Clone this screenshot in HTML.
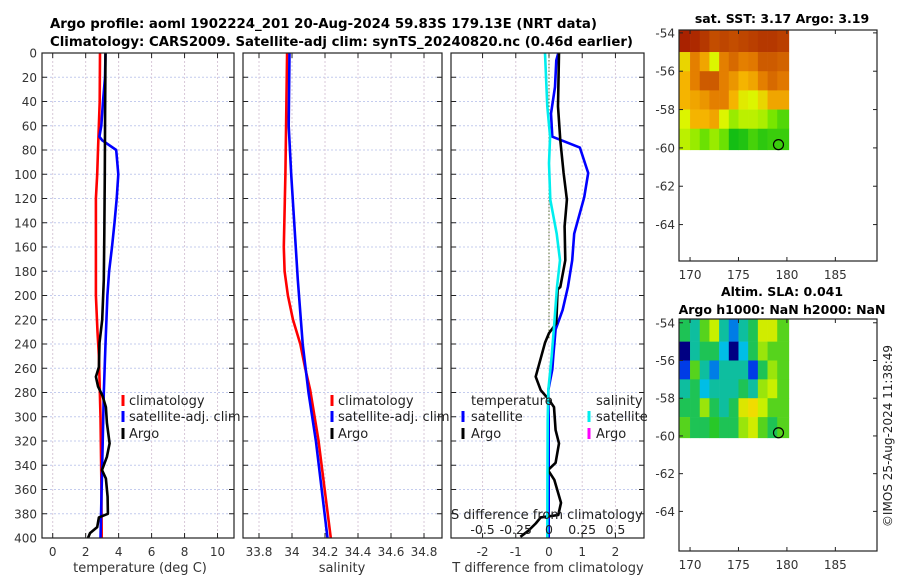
<!DOCTYPE html>
<html><head><meta charset="utf-8"><style>
body{margin:0;background:#fff}
svg{display:block;font-family:"DejaVu Sans","Liberation Sans",sans-serif}
</style></head><body>
<svg id="c" width="900" height="580" viewBox="0 0 900 580" xmlns="http://www.w3.org/2000/svg">
<text x="50" y="28" font-size="13" font-weight="bold" textLength="547" lengthAdjust="spacingAndGlyphs">Argo profile: aoml 1902224_201 20-Aug-2024 59.83S 179.13E (NRT data)</text>
<text x="50" y="46" font-size="13" font-weight="bold" textLength="583" lengthAdjust="spacingAndGlyphs">Climatology: CARS2009. Satellite-adj clim: synTS_20240820.nc (0.46d earlier)</text>
<text x="782" y="23" font-size="12.5" font-weight="bold" text-anchor="middle">sat. SST: 3.17 Argo: 3.19</text>
<text x="782" y="296" font-size="12.5" font-weight="bold" text-anchor="middle">Altim. SLA: 0.041</text>
<text x="782" y="314" font-size="12.5" font-weight="bold" text-anchor="middle">Argo h1000: NaN h2000: NaN</text>
<text transform="translate(892,436) rotate(-90)" font-size="12" fill="#222" text-anchor="middle">©IMOS 25-Aug-2024 11:38:49</text>
</svg>
<script>
// ---- data ----
const depthTicks=[0,20,40,60,80,100,120,140,160,180,200,220,240,260,280,300,320,340,360,380,400];
const tempTicks=[0,2,4,6,8,10];
const salTicks=[33.8,34,34.2,34.4,34.6,34.8];
const salTickLabels=["33.8","34","34.2","34.4","34.6","34.8"];
const tdTicks=[-2,-1,0,1,2];
const sdTicks=[-0.5,-0.25,0,0.25,0.5];
const sdTickLabels=["-0.5","-0.25","0","0.25","0.5"];

const climTDepth=[0,40,80,100,120,160,200,230,250,300,350,400];
const climT=[2.87,2.85,2.75,2.7,2.62,2.62,2.62,2.72,2.8,2.9,2.95,2.97];
const satTDepth=[0,20,40,60,69,72,80,100,120,140,160,180,200,240,280,340,400];
const satT=[3.2,3.17,3.05,2.95,2.83,3.0,3.85,3.98,3.88,3.75,3.6,3.42,3.32,3.2,3.1,3.0,2.9];
const argoTDepth=[0,50,100,150,187,220,239,259,267,275,283,292,305,322,333,344,351,366,380,383,391,396,400];
const argoT=[3.2,3.18,3.16,3.13,3.1,3.0,2.84,2.8,2.62,2.75,3.03,3.23,3.29,3.45,3.29,2.99,3.23,3.33,3.35,2.8,2.7,2.26,2.14];

const climSDepth=[0,100,160,180,200,220,240,260,278,319,400];
const climS=[33.97,33.96,33.95,33.955,33.975,34.006,34.05,34.08,34.11,34.16,34.235];
const satSDepth=[0,60,100,187,240,280,320,400];
const satS=[33.985,33.98,33.995,34.035,34.065,34.10,34.145,34.215];

const satTdDepth=[0,6,28,50,69,78,99,119,149,171,193,212,228,250,261,278,300,400];
const satTd=[0.28,0.22,0.18,0.06,0.1,0.93,1.18,1.06,0.76,0.7,0.57,0.41,0.2,0.13,0.1,-0.02,-0.01,-0.01];
const argoTdDepth=[0,44,72,99,121,143,171,193,195,223,231,239,267,278,286,292,311,322,338,344,352,371,381,383,388,394,399];
const argoTd=[0.3,0.27,0.34,0.44,0.54,0.47,0.49,0.34,0.26,0.22,0.0,-0.12,-0.4,-0.25,0.0,0.15,0.2,0.3,0.2,-0.03,0.16,0.36,0.28,-0.25,-0.4,-0.62,-0.86];
const satSdDepth=[0,44,69,91,121,149,171,193,223,250,278,303,360,400];
const satSd=[-0.03,-0.013,0.008,0.0,0.01,0.058,0.083,0.06,0.04,0.02,-0.005,-0.01,-0.012,-0.013];

const mapLons=[169,170,171,172,173,174,175,176,177,178,179];
const mapLats=[-54,-55,-56,-57,-58,-59];
const sstGrid=[
[6.8,6.7,6.5,6.2,6.3,6.2,6.3,6.4,6.5,6.5,6.4],
[4.5,5.5,5.0,4.2,5.5,5.8,5.5,5.6,6.0,6.0,5.9],
[4.8,5.5,6.0,6.0,5.5,5.2,4.8,5.0,5.5,5.8,5.6],
[4.8,5.0,5.2,5.5,5.5,4.8,4.3,4.2,4.5,5.0,5.0],
[4.2,4.8,4.8,5.0,4.2,3.8,4.0,4.0,3.9,3.6,3.3],
[4.0,3.8,3.5,3.8,3.5,2.8,2.9,3.2,3.0,3.1,3.1]];
const slaGrid=[
[0.0,-0.05,0.05,0.1,-0.05,-0.15,-0.05,0.0,0.12,0.12,0.05],
[-0.3,-0.05,0.0,0.0,-0.1,-0.3,-0.1,0.0,0.08,0.05,0.05],
[-0.2,0.05,-0.05,-0.15,-0.05,-0.05,-0.05,-0.2,0.0,0.08,0.05],
[-0.05,0.0,-0.1,-0.05,-0.05,-0.05,0.0,-0.05,0.08,0.1,0.05],
[0.0,0.0,0.08,0.0,-0.05,0.0,0.15,0.2,0.1,0.05,0.05],
[0.05,0.0,0.0,0.03,0.0,0.0,0.08,0.12,0.05,0.0,0.05]];
const mapLatTicks=[-54,-56,-58,-60,-62,-64];
const mapLonTicks=[170,175,180,185];
const argoLon=179.13, argoLat=-59.83;

// ---- helpers ----
const svg=document.getElementById('c');
const NS='http://www.w3.org/2000/svg';
function mk(tag,attrs,parent){const e=document.createElementNS(NS,tag);for(const k in attrs)e.setAttribute(k,attrs[k]);(parent||svg).appendChild(e);return e;}
const Y0=53,Y1=538;
const yD=d=>Y0+(d/400)*(Y1-Y0);

function panel(name,x0,x1,xmin,xmax){
  const g=mk('g',{});
  
  
  const sx=v=>x0+(v-xmin)/(xmax-xmin)*(x1-x0);
  return {g,sx,x0,x1};
}
function grid(p,xt){
  depthTicks.forEach(d=>{
    const l=mk('line',{x1:p.x0,x2:p.x1,y1:yD(d),y2:yD(d),stroke:'#c4ccee','stroke-width':1,'stroke-dasharray':'2,2'},p.g);
    
    
    mk('line',{x1:p.x0,x2:p.x0+5,y1:yD(d),y2:yD(d),stroke:'#222'},p.g);
    mk('line',{x1:p.x1-5,x2:p.x1,y1:yD(d),y2:yD(d),stroke:'#222'},p.g);
  });
  xt.forEach(v=>{
    const x=p.sx(v);
    const l=mk('line',{x1:x,x2:x,y1:Y0,y2:Y1,stroke:'#d8c8d8','stroke-width':1,'stroke-dasharray':'2,2'},p.g);
    
    
    mk('line',{x1:x,x2:x,y1:Y0,y2:Y0+5,stroke:'#222'},p.g);
    mk('line',{x1:x,x2:x,y1:Y1-5,y2:Y1,stroke:'#222'},p.g);
  });
}
function frame(p){
  const r=mk('rect',{x:p.x0,y:Y0,width:p.x1-p.x0,height:Y1-Y0,fill:'none',stroke:'#222','stroke-width':1.2},p.g);
  
  
}
function xlabels(p,vals,labels){
  vals.forEach((v,i)=>{
    const t=mk('text',{x:p.sx(v),y:556,'font-size':12,fill:'#333','text-anchor':'middle'},p.g);
    t.textContent=labels?labels[i]:String(v);
    
    
  });
}
function line(p,vals,depths,color,name,w){
  const pts=vals.map((v,i)=>p.sx(v).toFixed(1)+','+yD(depths[i]).toFixed(1)).join(' ');
  const l=mk('polyline',{points:pts,fill:'none',stroke:color,'stroke-width':w||2.6,'stroke-linejoin':'round'},p.g);
  
  
}
function text(p,x,y,s,name,size,anchor){
  const t=mk('text',{x:x,y:y,'font-size':size||13,fill:'#222','text-anchor':anchor||'start'},p.g);
  t.textContent=s;
  
  
  return t;
}
function legBar(p,x,yc,color,name){
  const r=mk('rect',{x:x-1.5,y:yc-6,width:3,height:11,fill:color},p.g);
  
  
}

// ---- panel 1: temperature ----
const p1=panel('temperature-panel',42,234,-0.65,11.0);
grid(p1,tempTicks);
depthTicks.forEach(d=>{
  const t=text(p1,37,yD(d)+4.5,String(d),'y-tick-label',12,'end');t.setAttribute('fill','#333');
});
line(p1,climT,climTDepth,'#ff0000','climatology-temp-line');
line(p1,satT,satTDepth,'#0000ff','satellite-temp-line');
line(p1,argoT,argoTDepth,'#000000','argo-temp-line');
frame(p1);
xlabels(p1,tempTicks);
text(p1,140,572,'temperature (deg C)','x-axis-title',13,'middle').setAttribute('fill','#333');
legBar(p1,123,401,'#ff0000','legend-climatology-swatch');
text(p1,129,405,'climatology','legend-climatology-label');
legBar(p1,123,417,'#0000ff','legend-satellite-swatch');
text(p1,129,421,'satellite-adj. clim','legend-satellite-label');
legBar(p1,123,434,'#000','legend-argo-swatch');
text(p1,129,438,'Argo','legend-argo-label');

// ---- panel 2: salinity ----
const p2=panel('salinity-panel',243,442,33.703,34.909);
grid(p2,salTicks);
line(p2,climS,climSDepth,'#ff0000','climatology-salinity-line');
line(p2,satS,satSDepth,'#0000ff','satellite-salinity-line');
frame(p2);
xlabels(p2,salTicks,salTickLabels);
text(p2,342,572,'salinity','x-axis-title',13,'middle').setAttribute('fill','#333');
legBar(p2,332,401,'#ff0000','legend-climatology-swatch');
text(p2,338,405,'climatology','legend-climatology-label');
legBar(p2,332,417,'#0000ff','legend-satellite-swatch');
text(p2,338,421,'satellite-adj. clim','legend-satellite-label');
legBar(p2,332,434,'#000','legend-argo-swatch');
text(p2,338,438,'Argo','legend-argo-label');

// ---- panel 3: differences ----
const p3=panel('difference-panel',451,644,-2.95,2.86);
const sS=v=>p3.sx(v*4);
grid(p3,tdTicks);
const zl=mk('line',{x1:p3.sx(0),x2:p3.sx(0),y1:Y0,y2:yD(235),stroke:'#556b2f','stroke-width':1,'stroke-dasharray':'1.5,2'},p3.g);


line(p3,satTd,satTdDepth,'#0000ff','satellite-temp-diff-line');
line(p3,argoTd,argoTdDepth,'#000000','argo-temp-diff-line');
const sdPts=satSd.map((v,i)=>sS(v).toFixed(1)+','+yD(satSdDepth[i]).toFixed(1)).join(' ');
const sdl=mk('polyline',{points:sdPts,fill:'none',stroke:'#00eeee','stroke-width':2.6},p3.g);


frame(p3);
xlabels(p3,tdTicks);
text(p3,548,572,'T difference from climatology','x-axis-title',13,'middle').setAttribute('fill','#333');
text(p3,451,519,'S difference from climatology','s-axis-title',13);
sdTicks.forEach((v,i)=>{text(p3,sS(v),534,sdTickLabels[i],'s-tick-label',12.5,'middle');});
text(p3,471,405,'temperature','legend-temperature-heading');
legBar(p3,463,417,'#0000ff','legend-temp-satellite-swatch');
text(p3,471,421,'satellite','legend-temp-satellite-label');
legBar(p3,463,434,'#000','legend-temp-argo-swatch');
text(p3,471,438,'Argo','legend-temp-argo-label');
text(p3,596,405,'salinity','legend-salinity-heading');
legBar(p3,589,417,'#00eeee','legend-sal-satellite-swatch');
text(p3,596,421,'satellite','legend-sal-satellite-label');
legBar(p3,589,434,'#ff00ff','legend-sal-argo-swatch');
text(p3,596,438,'Argo','legend-sal-argo-label');

// ---- maps ----
function lerpC(stops,v){
  if(v<=stops[0][0])return stops[0][1];
  for(let i=1;i<stops.length;i++){if(v<=stops[i][0]){const a=stops[i-1],b=stops[i];const t=(v-a[0])/(b[0]-a[0]);
    const c=a[1].map((x,k)=>Math.round(x+(b[1][k]-x)*t));return c;}}
  return stops[stops.length-1][1];
}
const sstStops=[[2.8,[20,190,20]],[3.6,[120,230,0]],[4.2,[220,245,0]],[4.8,[245,180,0]],[5.6,[225,120,0]],[6.3,[190,70,0]],[7,[160,20,0]]];
const slaStops=[[-0.3,[0,0,130]],[-0.2,[0,60,230]],[-0.1,[0,190,230]],[-0.03,[20,190,130]],[0.03,[40,200,40]],[0.1,[200,240,0]],[0.2,[240,220,0]],[0.3,[240,150,0]]];
function map(name,fx0,fx1,fy0,fy1,latTop,latBot,gridv,stops){
  const g=mk('g',{});
  
  
  const lon0=168.86,lon1=189.3;
  const sx=v=>fx0+(v-lon0)/(lon1-lon0)*(fx1-fx0);
  const sy=v=>fy0+(latTop-v)/(latTop-latBot)*(fy1-fy0);
  gridv.forEach((row,r)=>row.forEach((v,c)=>{
    const xa=c===0?sx(lon0):sx(mapLons[c]), xb=c===mapLons.length-1?sx(180.2):sx(mapLons[c]+1);
    const ya=r===0?sy(latTop):sy(mapLats[r]), yb=r===mapLats.length-1?sy(-60.1):sy(mapLats[r]-1);
    const col=lerpC(stops,v);
    const cell=mk('rect',{x:xa,y:ya,width:xb-xa+0.3,height:yb-ya+0.3,fill:'rgb('+col.join(',')+')'},g);
    
    
  }));
  const fr=mk('rect',{x:fx0,y:fy0,width:fx1-fx0,height:fy1-fy0,fill:'none',stroke:'#222','stroke-width':1.2},g);
  
  
  mapLatTicks.forEach(v=>{
    const y=sy(v);
    mk('line',{x1:fx0,x2:fx0+4,y1:y,y2:y,stroke:'#222'},g);
    mk('line',{x1:fx1-4,x2:fx1,y1:y,y2:y,stroke:'#222'},g);
    const t=mk('text',{x:fx0-4,y:y+4.5,'font-size':12,fill:'#333','text-anchor':'end'},g);
    t.textContent=String(v);
    
    
  });
  mapLonTicks.forEach(v=>{
    const x=sx(v);
    mk('line',{x1:x,x2:x,y1:fy1-4,y2:fy1,stroke:'#222'},g);
    mk('line',{x1:x,x2:x,y1:fy0,y2:fy0+4,stroke:'#222'},g);
    const t=mk('text',{x:x,y:fy1+18,'font-size':12,fill:'#333','text-anchor':'middle'},g);
    t.textContent=String(v);
    
    
  });
  const m=mk('circle',{cx:sx(argoLon),cy:sy(argoLat),r:5,fill:'none',stroke:'#000','stroke-width':1.2},g);
  
  
}
map('sst-map',679,877,30,261,-53.85,-65.9,sstGrid,sstStops);
map('sla-map',679,877,319,551,-53.8,-66.1,slaGrid,slaStops);
</script>
</body></html>
